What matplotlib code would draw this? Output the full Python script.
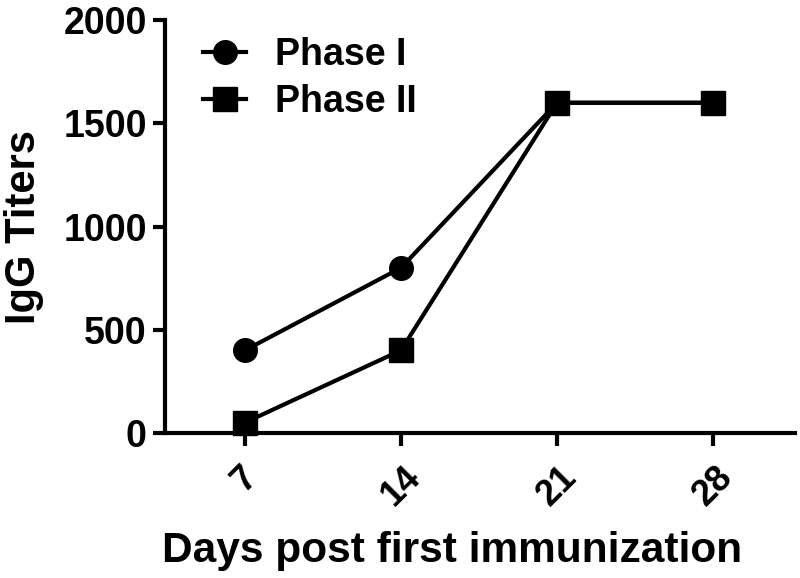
import matplotlib
matplotlib.use("Agg")
import matplotlib.pyplot as plt
from matplotlib.lines import Line2D

days = [7, 14, 21, 28]
phase1 = [400, 800, 1600, 1600]
phase2 = [50, 400, 1600, 1600]
yticks = [0, 500, 1000, 1500, 2000]

plt.rcParams['font.family'] = ['Liberation Sans', 'DejaVu Sans']
plt.rcParams['font.weight'] = 'bold'

fig = plt.figure(figsize=(8, 5.78), dpi=100)
ax = fig.add_axes([0.206, 0.251, 0.788, 0.714])

ax.plot(days, phase1, color='black', lw=3, marker='o', ms=17, label='Phase I',
        clip_on=False)
ax.plot(days, phase2, color='black', lw=3, marker='s', ms=17, label='Phase II',
        clip_on=False)

ax.set_xlim(3.41, 31.68)
ax.set_ylim(0, 2000)
ax.set_xticks(days)
ax.set_yticks(yticks)
ax.set_xticklabels([str(d) for d in days], rotation=45, fontsize=26,
                   fontweight='bold')
ax.set_yticklabels([str(v) for v in yticks], fontsize=27, fontweight='bold')

for s in ['top', 'right']:
    ax.spines[s].set_visible(False)
for s in ['left', 'bottom']:
    ax.spines[s].set_linewidth(3)
ax.tick_params(length=9, width=3, direction='out')
ax.tick_params(axis='y', pad=4)
ax.tick_params(axis='x', pad=10)

ax.set_xlabel('Days post first immunization', fontsize=30.5, fontweight='bold')
ax.xaxis.set_label_coords(0.456, -0.237)
ax.set_ylabel('IgG Titers', fontsize=30, fontweight='bold')
ax.yaxis.set_label_coords(-0.192, 0.5)

handles = [Line2D([], [], color='black', lw=3, marker='o', ms=17),
           Line2D([], [], color='black', lw=3, marker='s', ms=17)]
ax.legend(handles, ['Phase I', 'Phase II'], loc='upper left',
          bbox_to_anchor=(0.06, 0.96), frameon=False, fontsize=27,
          borderpad=0, borderaxespad=0,
          handlelength=1.17, handletextpad=0.75, labelspacing=0.3)

fig.savefig('out.png', dpi=100)
